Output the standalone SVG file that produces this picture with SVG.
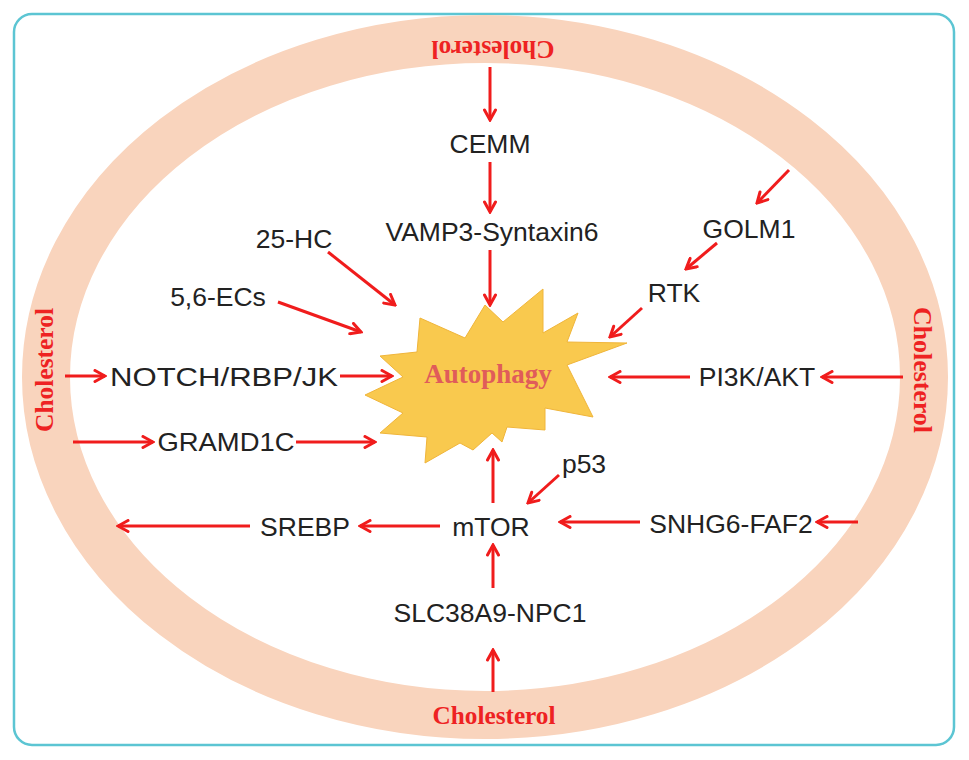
<svg xmlns="http://www.w3.org/2000/svg" width="969" height="760" viewBox="0 0 969 760">
<defs>
<style>
.lbl{font-family:"Liberation Sans",Arial,sans-serif;font-size:26.5px;fill:#222;text-anchor:middle}
.chol{font-family:"Liberation Serif","Times New Roman",serif;font-weight:bold;font-size:25px;fill:#ee2222;text-anchor:middle}
.ar{stroke:#f01c1c;stroke-width:3;fill:none;marker-end:url(#ah)}
</style>
<marker id="ah" viewBox="0 0 14 14" refX="12" refY="7" markerWidth="14" markerHeight="14" markerUnits="userSpaceOnUse" orient="auto">
<path d="M2,1.5 L12,7 L2,12.5" fill="none" stroke="#f01c1c" stroke-width="3" stroke-linecap="round" stroke-linejoin="miter"/>
</marker>
</defs>
<rect width="969" height="760" fill="#fff"/>
<rect x="14" y="14" width="940" height="731" rx="18" fill="#fff" stroke="#5cc5d3" stroke-width="2.5"/>
<ellipse id="membrane" cx="485" cy="377" rx="439" ry="338" fill="none" stroke="#f9d4bd" stroke-width="48"/>
<g id="cholesterol-top"><text class="chol" transform="translate(493,41) rotate(180)" textLength="123" lengthAdjust="spacingAndGlyphs">Cholesterol</text></g>
<g id="cholesterol-bottom"><text class="chol" x="494" y="724" textLength="123" lengthAdjust="spacingAndGlyphs">Cholesterol</text></g>
<g id="cholesterol-left"><text class="chol" transform="translate(53,370) rotate(-90)" textLength="124" lengthAdjust="spacingAndGlyphs">Cholesterol</text></g>
<g id="cholesterol-right"><text class="chol" transform="translate(914,370) rotate(90)" textLength="126" lengthAdjust="spacingAndGlyphs">Cholesterol</text></g>
<g id="autophagy">
<polygon points="380,356 417,352 420,318 465,338 485,305 503,322 543,289 543,333 578,313 567,342 627,343 567,365 593,417 545,408 545,430 507,427 502,442 492,433 473,450 460,443 425,463 427,437 380,433 403,413 365,395 403,377" fill="#f9c94e" stroke="#f0b53a" stroke-width="1"/>
<text x="488" y="383" font-family="Liberation Serif,'Times New Roman',serif" font-weight="bold" font-size="27" fill="#e05c5a" text-anchor="middle">Autophagy</text>
</g>
<g id="CEMM"><text class="lbl" x="490" y="153">CEMM</text></g>
<g id="VAMP3"><text class="lbl" x="492" y="241">VAMP3-Syntaxin6</text></g>
<g id="HC25"><text class="lbl" x="294" y="248">25-HC</text></g>
<g id="ECs"><text class="lbl" x="218" y="306">5,6-ECs</text></g>
<g id="GOLM1"><text class="lbl" x="749" y="238">GOLM1</text></g>
<g id="RTK"><text class="lbl" x="674" y="302">RTK</text></g>
<g id="NOTCH"><text class="lbl" x="224" y="386" textLength="228" lengthAdjust="spacingAndGlyphs">NOTCH/RBP/JK</text></g>
<g id="PI3K"><text class="lbl" x="757" y="386">PI3K/AKT</text></g>
<g id="GRAMD1C"><text class="lbl" x="226" y="451" textLength="137" lengthAdjust="spacingAndGlyphs">GRAMD1C</text></g>
<g id="SREBP"><text class="lbl" x="305" y="536">SREBP</text></g>
<g id="mTOR"><text class="lbl" x="491" y="536">mTOR</text></g>
<g id="p53"><text class="lbl" x="584" y="473">p53</text></g>
<g id="SNHG6"><text class="lbl" x="731" y="533">SNHG6-FAF2</text></g>
<g id="SLC38A9"><text class="lbl" x="490" y="622">SLC38A9-NPC1</text></g>
<g id="connectors">
<line class="ar" x1="490" y1="67" x2="490" y2="120"/>
<line class="ar" x1="490" y1="162" x2="490" y2="212"/>
<line class="ar" x1="490" y1="250" x2="490" y2="305"/>
<line class="ar" x1="328" y1="252" x2="395" y2="305"/>
<line class="ar" x1="278" y1="302" x2="361" y2="332"/>
<line class="ar" x1="789" y1="170" x2="757" y2="203"/>
<line class="ar" x1="717" y1="243" x2="686" y2="269"/>
<line class="ar" x1="642" y1="308" x2="610" y2="337"/>
<line class="ar" x1="65" y1="376" x2="105" y2="376"/>
<line class="ar" x1="340" y1="376" x2="392" y2="376"/>
<line class="ar" x1="903" y1="377" x2="822" y2="377"/>
<line class="ar" x1="690" y1="377" x2="610" y2="377"/>
<line class="ar" x1="73" y1="442" x2="153" y2="442"/>
<line class="ar" x1="296" y1="442" x2="375" y2="442"/>
<line class="ar" x1="493" y1="503" x2="493" y2="450"/>
<line class="ar" x1="559" y1="475" x2="528" y2="503"/>
<line class="ar" x1="640" y1="522" x2="560" y2="522"/>
<line class="ar" x1="858" y1="522" x2="817" y2="522"/>
<line class="ar" x1="440" y1="526" x2="360" y2="526"/>
<line class="ar" x1="250" y1="526" x2="118" y2="526"/>
<line class="ar" x1="493" y1="588" x2="493" y2="545"/>
<line class="ar" x1="493" y1="692" x2="493" y2="650"/>
</g>
</svg>
